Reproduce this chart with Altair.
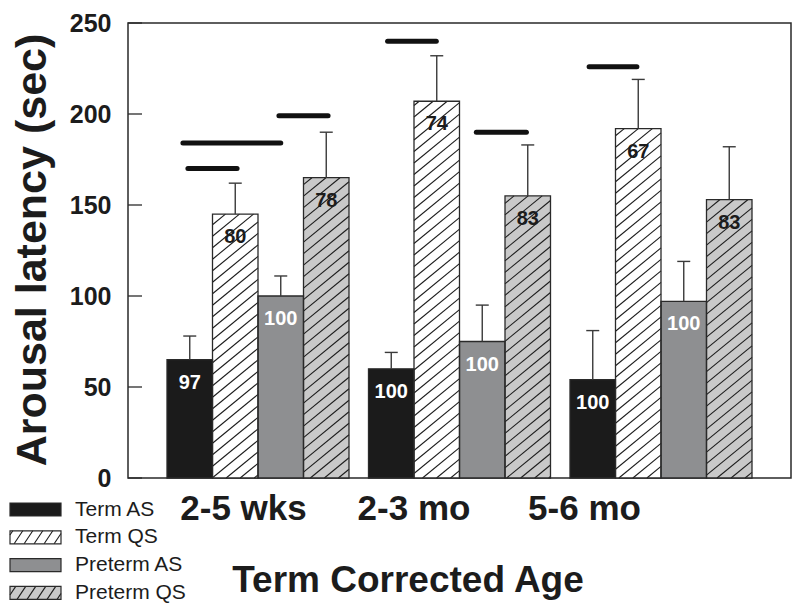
import math
import altair as alt
import pandas as pd

# ---------------- data ----------------
groups = ["2-5 wks", "2-3 mo", "5-6 mo"]
series = ["Term AS", "Term QS", "Preterm AS", "Preterm QS"]

term_as = [65, 60, 54]
term_qs = [145, 207, 192]
preterm_as = [100, 75, 97]
preterm_qs = [165, 155, 153]

# top of the (upper-only) error bars
term_as_err = [78, 69, 81]
term_qs_err = [162, 232, 219]
preterm_as_err = [111, 95, 119]
preterm_qs_err = [190, 183, 182]

# numbers printed inside the bars
term_as_pct = [97, 100, 100]
term_qs_pct = [80, 74, 67]
preterm_as_pct = [100, 100, 100]
preterm_qs_pct = [78, 83, 83]

# significance bars: group, start/end (in bar slots inside the group), height
sig_group = [0, 0, 0, 1, 1, 2]
sig_start = [0.46, 0.35, 2.46, 0.42, 2.37, 0.42]
sig_end = [1.54, 2.50, 3.54, 1.49, 3.47, 1.47]
sig_value = [170, 184, 199, 240, 190, 226]

y_ticks = [0, 50, 100, 150, 200, 250]

# ---------------- layout / style ----------------
W, H = 663, 455
BAR_PX = 45.5
XMAX = W / BAR_PX
SX = W / XMAX            # px per x unit
SY = H / 250.0           # px per y unit
GROUP0 = 39 / BAR_PX
GROUP_STEP = 201.5 / BAR_PX
LABEL0 = 115.5 / BAR_PX
LABEL_STEP = 170.5 / BAR_PX
FONT = "Liberation Sans"
INK = "#1c1c1c"
EDGE = "#2a2a2a"

fills = {"Term AS": "#1b1b1b", "Term QS": "#ffffff",
         "Preterm AS": "#8e8f91", "Preterm QS": "#c9c9c9"}
text_colors = {"Term AS": "#ffffff", "Term QS": INK,
               "Preterm AS": "#ffffff", "Preterm QS": INK}
hatched = {"Term QS", "Preterm QS"}

values = {"Term AS": term_as, "Term QS": term_qs,
          "Preterm AS": preterm_as, "Preterm QS": preterm_qs}
errs = {"Term AS": term_as_err, "Term QS": term_qs_err,
        "Preterm AS": preterm_as_err, "Preterm QS": preterm_qs_err}
pcts = {"Term AS": term_as_pct, "Term QS": term_qs_pct,
        "Preterm AS": preterm_as_pct, "Preterm QS": preterm_qs_pct}


def hatch_segments(X0, X1, Y0, Y1, slope, vs):
    """diagonal hatch lines (px, y up) clipped to a rectangle"""
    segs = []
    kmin = math.floor((Y0 - slope * X1) / vs)
    kmax = math.ceil((Y1 - slope * X0) / vs)
    for k in range(kmin, kmax + 1):
        c = k * vs
        xa = max(X0, (Y0 - c) / slope)
        xb = min(X1, (Y1 - c) / slope)
        if xb - xa > 0.6:
            segs.append((xa, c + slope * xa, xb, c + slope * xb))
    return segs


rows = []
hatch_rows = []
for g, grp in enumerate(groups):
    for s, ser in enumerate(series):
        x = GROUP0 + g * GROUP_STEP + s
        v = values[ser][g]
        rows.append(dict(group=grp, series=ser, x=x, x2=x + 1, xc=x + 0.5,
                         cl=x + 0.5 - 6.5 / SX, cr=x + 0.5 + 6.5 / SX,
                         value=v, base=0, err=errs[ser][g], pct=pcts[ser][g],
                         fill=fills[ser], tcolor=text_colors[ser]))
        if ser in hatched:
            for xa, ya, xb, yb in hatch_segments(x * SX, (x + 1) * SX, 0, v * SY, 0.82, 11.5):
                hatch_rows.append(dict(hx=xa / SX, hy=ya / SY, hx2=xb / SX, hy2=yb / SY))
bars = pd.DataFrame(rows)
hatch = pd.DataFrame(hatch_rows)

sig = pd.DataFrame({
    "sx": [GROUP0 + g * GROUP_STEP + a for g, a in zip(sig_group, sig_start)],
    "sx2": [GROUP0 + g * GROUP_STEP + b for g, b in zip(sig_group, sig_end)],
    "sy": sig_value,
})
ticks = pd.DataFrame({"tick": y_ticks})
glabels = pd.DataFrame({"group": groups,
                        "lx": [LABEL0 + i * LABEL_STEP for i in range(len(groups))]})

# legend (drawn below-left of the plot, converted into the plot's data units)
leg_rows, leg_hatch = [], []
for i, ser in enumerate(series):
    cy = H + 31.5 + 27.8 * i               # px from plot top
    X0, X1 = -118, -67
    Y0, Y1 = H - (cy + 6.5), H - (cy - 6.5)
    leg_rows.append(dict(series=ser, lx=X0 / SX, lx2=X1 / SX, ly=Y0 / SY, ly2=Y1 / SY,
                         tx=-53 / SX, ty=(H - cy) / SY, fill=fills[ser]))
    if ser in hatched:
        for xa, ya, xb, yb in hatch_segments(X0, X1, Y0, Y1, 1.5, 15):
            leg_hatch.append(dict(hx=xa / SX, hy=ya / SY, hx2=xb / SX, hy2=yb / SY))
legend = pd.DataFrame(leg_rows)
legend_hatch = pd.DataFrame(leg_hatch)

# ---------------- chart ----------------
xs = alt.Scale(domain=[0, XMAX], nice=False, zero=False)
ys = alt.Scale(domain=[0, 250], nice=False, zero=False)

yaxis = alt.Axis(values=y_ticks, ticks=False, domain=False, grid=False,
                 labelFont=FONT, labelFontWeight="bold", labelFontSize=25,
                 labelColor=INK, labelPadding=17,
                 titleFont=FONT, titleFontWeight="bold",
                 titleFontSize=43, titleColor=INK, titleX=-96, titleY=H / 2 - 1,
                 titleAlign="center", titleBaseline="middle", titleAngle=270)
YTITLE = "Arousal latency (sec)"


def X(f):
    return alt.X(f, scale=xs, axis=None)


def Y(f):
    return alt.Y(f, scale=ys, axis=yaxis, title=YTITLE)


bar_fill = alt.Chart(bars).mark_rect(strokeWidth=0).encode(
    x=X("x:Q"), x2="x2:Q", y=Y("value:Q"), y2="base:Q",
    fill=alt.Fill("fill:N", scale=None),
)
bar_hatch = alt.Chart(hatch).mark_rule(color=INK, strokeWidth=1.1).encode(
    x=X("hx:Q"), x2="hx2:Q", y=Y("hy:Q"), y2="hy2:Q")
bar_edge = alt.Chart(bars).mark_rect(fillOpacity=0, stroke=EDGE, strokeWidth=1.3).encode(
    x=X("x:Q"), x2="x2:Q", y=Y("value:Q"), y2="base:Q")
err_line = alt.Chart(bars).mark_rule(color="#3a3a3a", strokeWidth=1.4).encode(
    x=X("xc:Q"), y=Y("value:Q"), y2="err:Q")
err_cap = alt.Chart(bars).mark_rule(color="#3a3a3a", strokeWidth=1.4).encode(
    x=X("cl:Q"), x2="cr:Q", y=Y("err:Q"))
sig_lines = alt.Chart(sig).mark_rule(color="#111111", strokeWidth=5, strokeCap="round").encode(
    x=X("sx:Q"), x2="sx2:Q", y=Y("sy:Q"))
tick_marks = alt.Chart(ticks).mark_rule(color=EDGE, strokeWidth=1.3).encode(
    x=alt.value(0), x2=alt.value(14), y=Y("tick:Q"))
bar_text = alt.Chart(bars).mark_text(font=FONT, fontWeight="bold", fontSize=20,
                                     dy=23, baseline="middle", align="center").encode(
    x=X("xc:Q"), y=Y("value:Q"), text="pct:Q",
    color=alt.Color("tcolor:N", scale=None))
group_text = alt.Chart(glabels).mark_text(font=FONT, fontWeight="bold", fontSize=35,
                                          baseline="middle", align="center", color=INK).encode(
    x=X("lx:Q"), y=alt.value(H + 31), text="group:N")
x_title = alt.Chart(pd.DataFrame({"t": ["Term Corrected Age"]})).mark_text(
    font=FONT, fontWeight="bold", fontSize=37, baseline="middle", align="center", color=INK
).encode(x=alt.value(280), y=alt.value(H + 103), text="t:N")

leg_fill = alt.Chart(legend).mark_rect(strokeWidth=0).encode(
    x=X("lx:Q"), x2="lx2:Q", y=Y("ly:Q"), y2="ly2:Q",
    fill=alt.Fill("fill:N", scale=None))
leg_hatch_l = alt.Chart(legend_hatch).mark_rule(color=INK, strokeWidth=1.1).encode(
    x=X("hx:Q"), x2="hx2:Q", y=Y("hy:Q"), y2="hy2:Q")
leg_edge = alt.Chart(legend).mark_rect(fillOpacity=0, stroke=EDGE, strokeWidth=1.2).encode(
    x=X("lx:Q"), x2="lx2:Q", y=Y("ly:Q"), y2="ly2:Q")
leg_text = alt.Chart(legend).mark_text(font=FONT, fontSize=21, align="left",
                                       baseline="middle", color=INK).encode(
    x=X("tx:Q"), y=Y("ty:Q"), text="series:N")

chart = alt.layer(
    bar_fill, bar_hatch, bar_edge, err_line, err_cap, sig_lines, tick_marks,
    bar_text, group_text, x_title, leg_fill, leg_hatch_l, leg_edge, leg_text,
).properties(
    width=W, height=H,
    autosize=alt.AutoSizeParams(type="none"),
    padding={"left": 120, "top": 15, "right": 1, "bottom": 126},
    background="white",
).configure_view(stroke=EDGE, strokeWidth=1.5)

chart.save("out.html", embed_options={"renderer": "svg", "actions": False})
